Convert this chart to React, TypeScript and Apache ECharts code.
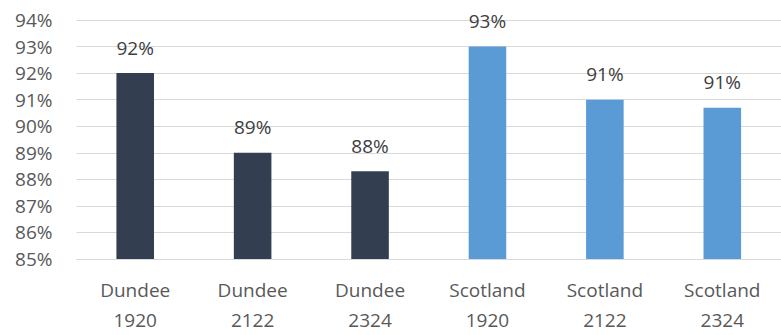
import React, { useEffect, useRef } from "react";
import * as echarts from "echarts";

const categories = ["Dundee\n1920", "Dundee\n2122", "Dundee\n2324", "Scotland\n1920", "Scotland\n2122", "Scotland\n2324"];
const values = [92, 89, 88.3, 93, 91, 90.7];
const barColors = ["#333F50", "#333F50", "#333F50", "#5B9BD5", "#5B9BD5", "#5B9BD5"];

const FONT = "'Open Sans', sans-serif";

export default function App() {
  const ref = useRef<HTMLDivElement>(null);
  useEffect(() => {
    const chart = echarts.init(ref.current!, null, { renderer: "svg" });
    chart.setOption({
      animation: false,
      grid: { left: 76.5, right: -9, top: 20, bottom: 72, containLabel: false },
      xAxis: {
        type: "category",
        data: categories,
        axisLine: { lineStyle: { color: "#D9D9D9", width: 1 } },
        axisTick: { show: false },
        axisLabel: { color: "#595959", fontFamily: FONT, fontSize: 19, lineHeight: 30, margin: 16, interval: 0 },
      },
      yAxis: {
        type: "value",
        min: 85,
        max: 94,
        interval: 1,
        axisLine: { show: false },
        axisTick: { show: false },
        splitLine: { lineStyle: { color: "#D9D9D9", width: 1 } },
        axisLabel: { color: "#595959", fontFamily: FONT, fontSize: 19, margin: 24, formatter: (v: number) => v + "%" },
      },
      series: [
        {
          type: "bar",
          barWidth: "32%",
          data: values.map((v, i) => ({ value: v, itemStyle: { color: barColors[i] } })),
          label: {
            show: true,
            position: "top",
            distance: 16,
            color: "#404040",
            fontFamily: FONT,
            fontSize: 19,
            formatter: (p: any) => Math.round(p.value) + "%",
          },
        },
      ],
    });
    return () => chart.dispose();
  }, []);
  return <div ref={ref} style={{ width: 781, height: 335, position: "absolute", left: 0, top: 0 }} />;
}
